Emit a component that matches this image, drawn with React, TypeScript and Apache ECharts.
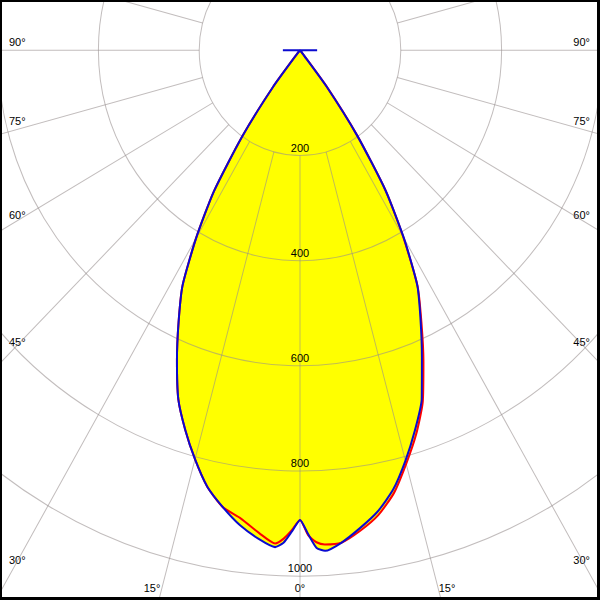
import React, { useEffect, useRef } from 'react';
import * as echarts from 'echarts';

// Gamma angles (degrees from nadir) at which the intensities were read
const gammaAngles = [0, 1, 2, 3, 5, 7.5, 10, 12.5, 15, 17.5, 20, 22.5, 25, 27.5, 30, 32.5, 35, 37.5, 40, 42.5, 87.5, 90];
// C90-C270 plane (blue), cd/klm
const blueRight = [893, 920, 947, 953, 940, 916, 890, 855, 808, 758, 706, 632, 566, 504, 412, 316, 198, 85, 8, 0, 0, 34];
const blueLeft = [893, 915, 937, 946, 933, 911, 882, 850, 805, 757, 706, 638, 570, 505, 412, 318, 200, 88, 10, 0, 0, 34];
// C0-C180 plane (red), cd/klm
const redRight = [893, 922, 936, 941, 940, 921, 897, 862, 814, 766, 712, 640, 570, 505, 410, 316, 198, 86, 8, 0, 0, 0];
const redLeft = [893, 912, 929, 939, 922, 898, 882, 850, 805, 757, 706, 638, 570, 505, 412, 318, 200, 88, 10, 0, 0, 0];

// Axis settings
const radiusMax = 1000;
const radiusStep = 200;
const angleStep = 15;
const sideAngleLabels = ['90°', '75°', '60°', '45°', '30°'];
const bottomAngleLabels = ['15°', '0°', '15°'];

// Layout (unstretched chart space, stretched vertically by CSS)
const W = 600;
const H = 575;
const CX = 300;
const CY = 48.2;
const R = 504;
const GRID = 'rgba(150,142,142,0.58)';
const FONT = '11px "Liberation Sans", Arial, sans-serif';
const sideLabelY = [40, 115.7, 206, 327.5, 536.7];
const bottomLabelX = [152, 300, 447];
const bottomLabelY = 563.5;

function planeData(right: number[], left: number[]) {
  const pts: number[][] = [];
  for (let i = gammaAngles.length - 1; i >= 0; i--) {
    pts.push([right[i], 360 - gammaAngles[i]]);
  }
  for (let i = 1; i < gammaAngles.length; i++) {
    pts.push([left[i], gammaAngles[i]]);
  }
  return pts;
}

export default function App() {
  const ref = useRef<HTMLDivElement>(null);
  useEffect(() => {
    if (!ref.current) return;
    const chart = echarts.init(ref.current, null, { renderer: 'svg' });
    const redData = planeData(redRight, redLeft);
    const blueData = planeData(blueRight, blueLeft);

    const graphic: any[] = [];
    sideAngleLabels.forEach((t, i) => {
      graphic.push({
        type: 'text', x: 9, y: sideLabelY[i], silent: true,
        style: { text: t, fill: '#000', font: FONT, align: 'left', verticalAlign: 'middle' },
      });
      graphic.push({
        type: 'text', x: 590, y: sideLabelY[i], silent: true,
        style: { text: t, fill: '#000', font: FONT, align: 'right', verticalAlign: 'middle' },
      });
    });
    bottomAngleLabels.forEach((t, i) => {
      graphic.push({
        type: 'text', x: bottomLabelX[i], y: bottomLabelY, silent: true,
        style: { text: t, fill: '#000', font: FONT, align: 'center', verticalAlign: 'middle' },
      });
    });

    const r200 = (R * radiusStep) / radiusMax;
    const smooth = 0.2;

    chart.setOption({
      animation: false,
      backgroundColor: '#ffffff',
      polar: [
        { center: [CX, CY], radius: [0, R] },
        { center: [CX, CY], radius: [r200, 900] },
      ],
      angleAxis: [
        {
          polarIndex: 0, type: 'value', min: 0, max: 360, startAngle: 270, clockwise: true,
          axisLine: { show: false }, axisTick: { show: false }, axisLabel: { show: false },
          splitLine: { show: false }, z: 3,
        },
        {
          polarIndex: 1, type: 'value', min: 0, max: 360, interval: angleStep, startAngle: 270, clockwise: true,
          axisLine: { show: false }, axisTick: { show: false }, axisLabel: { show: false },
          splitLine: { show: true, lineStyle: { color: GRID, width: 1 } }, z: 3,
        },
      ],
      radiusAxis: [
        {
          polarIndex: 0, type: 'value', min: 0, max: radiusMax, interval: radiusStep,
          axisLine: { show: false }, axisTick: { show: false },
          axisLabel: {
            show: true, margin: 0, align: 'center', verticalAlign: 'bottom', showMinLabel: false,
            formatter: (v: number) => String(v),
            color: '#000', fontSize: 11, fontFamily: '"Liberation Sans", Arial, sans-serif', padding: [0, 0, 2, 0],
          },
          splitLine: { show: true, lineStyle: { color: GRID, width: 1 } }, z: 3,
        },
        { polarIndex: 1, type: 'value', min: 0, max: 1, show: false },
      ],
      graphic,
      series: [
        {
          type: 'line', coordinateSystem: 'polar', polarIndex: 0, data: redData, symbol: 'none', silent: true, smooth,
          lineStyle: { opacity: 0, width: 0 }, areaStyle: { color: '#ffff00', opacity: 1 }, z: 1,
        },
        {
          type: 'line', coordinateSystem: 'polar', polarIndex: 0, data: blueData, symbol: 'none', silent: true, smooth,
          lineStyle: { opacity: 0, width: 0 }, areaStyle: { color: '#ffff00', opacity: 1 }, z: 1,
        },
        {
          name: 'C0-C180', type: 'line', coordinateSystem: 'polar', polarIndex: 0, data: redData, symbol: 'none', smooth,
          lineStyle: { color: '#ff0000', width: 2 }, z: 5,
        },
        {
          name: 'C90-C270', type: 'line', coordinateSystem: 'polar', polarIndex: 0, data: blueData, symbol: 'none', smooth,
          lineStyle: { color: '#0a0ad0', width: 2 }, z: 6,
        },
      ],
    });
    return () => chart.dispose();
  }, []);

  return (
    <>
      <div
        ref={ref}
        style={{
          position: 'fixed', left: 0, top: 0, width: W, height: H,
          transform: `scaleY(${600 / H})`, transformOrigin: '0 0', background: '#fff',
        }}
      />
      <div
        style={{
          position: 'fixed', left: 0, top: 0, width: 600, height: 600, boxSizing: 'border-box',
          borderStyle: 'solid', borderColor: '#000', borderWidth: '2px 3px 3px 2px', pointerEvents: 'none',
        }}
      />
    </>
  );
}
